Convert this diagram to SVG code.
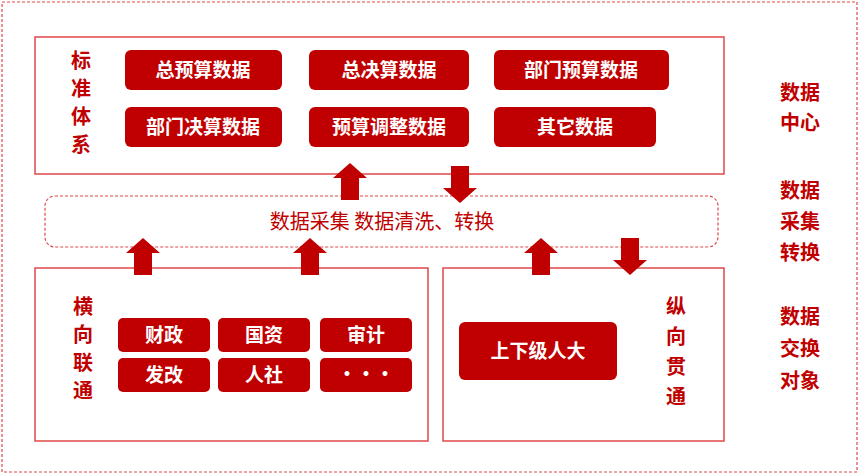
<svg xmlns="http://www.w3.org/2000/svg" width="860" height="475" viewBox="0 0 860 475">
<style>
text{font-family:"Noto Sans CJK SC","Liberation Sans",sans-serif;font-weight:bold}
.box{fill:#fff;stroke:#e04848;stroke-width:1.5}
.btn{fill:#c00000}
.bt{fill:#fff;font-size:19px;text-anchor:middle}
.lab{fill:#c00000;font-size:20px;text-anchor:middle}
.arr{fill:#c00000}
</style>
<defs>
<path id="up" d="M0,0 L17,15 L9,15 L9,37 L-9,37 L-9,15 L-17,15 Z"/>
<path id="down" d="M0,37 L17,22 L9,22 L9,0 L-9,0 L-9,22 L-17,22 Z"/>
</defs>
<rect x="2" y="2" width="855" height="470" fill="none" stroke="#e04848" stroke-width="1.2" stroke-dasharray="3,2"/>
<g id="top">
<rect class="box" x="35" y="37" width="689" height="137"/>
<text class="lab" x="81" y="68">标</text><text class="lab" x="81" y="96">准</text><text class="lab" x="81" y="124">体</text><text class="lab" x="81" y="152">系</text>
<rect class="btn" x="125" y="50" width="157" height="40" rx="6"/><text class="bt" x="203" y="77">总预算数据</text>
<rect class="btn" x="309" y="50" width="160" height="40" rx="6"/><text class="bt" x="389" y="77">总决算数据</text>
<rect class="btn" x="494" y="50" width="175" height="40" rx="6"/><text class="bt" x="581" y="77">部门预算数据</text>
<rect class="btn" x="125" y="107" width="157" height="40" rx="6"/><text class="bt" x="203" y="134">部门决算数据</text>
<rect class="btn" x="309" y="107" width="160" height="40" rx="6"/><text class="bt" x="389" y="134">预算调整数据</text>
<rect class="btn" x="494" y="107" width="162" height="40" rx="6"/><text class="bt" x="575" y="134">其它数据</text>
</g>
<g id="mid">
<rect x="45" y="196" width="673" height="51" rx="10" fill="none" stroke="#e04848" stroke-width="1.2" stroke-dasharray="3,2"/>
<text x="382" y="229" fill="#c00000" font-size="20" style="font-weight:normal" text-anchor="middle">数据采集  数据清洗、转换</text>
</g>
<g id="left">
<rect class="box" x="35" y="268" width="393" height="173"/>
<text class="lab" x="83" y="314">横</text><text class="lab" x="83" y="342">向</text><text class="lab" x="83" y="370">联</text><text class="lab" x="83" y="398">通</text>
<rect class="btn" x="118" y="318" width="92" height="34" rx="5"/><text class="bt" x="164" y="342">财政</text>
<rect class="btn" x="218" y="318" width="92" height="34" rx="5"/><text class="bt" x="264" y="342">国资</text>
<rect class="btn" x="320" y="318" width="92" height="34" rx="5"/><text class="bt" x="366" y="342">审计</text>
<rect class="btn" x="118" y="358" width="92" height="34" rx="5"/><text class="bt" x="164" y="382">发改</text>
<rect class="btn" x="218" y="358" width="92" height="34" rx="5"/><text class="bt" x="264" y="382">人社</text>
<rect class="btn" x="320" y="358" width="92" height="34" rx="5"/><text class="bt" x="366" y="381">•••</text>
</g>
<g id="right">
<rect class="box" x="443" y="268" width="281" height="173"/>
<rect class="btn" x="459" y="322" width="158" height="58" rx="6"/><text class="bt" x="538" y="358">上下级人大</text>
<text class="lab" x="676" y="314">纵</text><text class="lab" x="676" y="344">向</text><text class="lab" x="676" y="374">贯</text><text class="lab" x="676" y="404">通</text>
</g>
<g id="side">
<text class="lab" x="800" y="100">数据</text><text class="lab" x="800" y="130">中心</text>
<text class="lab" x="800" y="198">数据</text><text class="lab" x="800" y="229">采集</text><text class="lab" x="800" y="260">转换</text>
<text class="lab" x="800" y="324">数据</text><text class="lab" x="800" y="356">交换</text><text class="lab" x="800" y="388">对象</text>
</g>
<g id="connectors" class="arr">
<use href="#up" x="350" y="163"/>
<use href="#down" x="460" y="166"/>
<use href="#up" x="143" y="238"/>
<use href="#up" x="310" y="238"/>
<use href="#up" x="541" y="238"/>
<use href="#down" x="630" y="238"/>
</g>
</svg>
